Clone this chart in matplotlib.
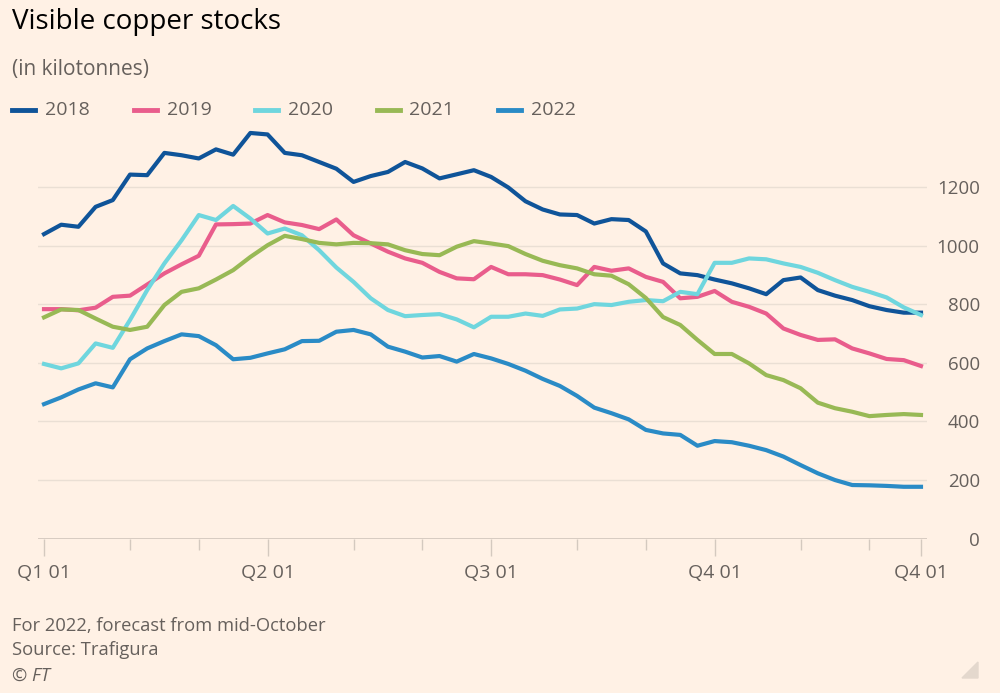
import matplotlib
matplotlib.use("Agg")
import matplotlib.pyplot as plt
from matplotlib.lines import Line2D
from matplotlib.patches import Polygon

plt.rcParams['font.family'] = ['Open Sans', 'DejaVu Sans']

# weekly index, 52 weeks
weeks = list(range(52))

s2018 = [1039, 1071, 1064, 1132, 1155, 1242, 1240, 1316, 1308, 1297, 1328, 1310, 1384,
         1379, 1316, 1308, 1285, 1262, 1217, 1237, 1251, 1285, 1263, 1229, 1243, 1257,
         1234, 1198, 1151, 1123, 1106, 1104, 1075, 1090, 1087, 1048, 939, 905, 899, 884,
         871, 854, 834, 882, 891, 848, 829, 814, 793, 780, 771, 771]
s2019 = [783, 783, 779, 788, 825, 829, 867, 905, 936, 965, 1072, 1073, 1075, 1104, 1079,
         1070, 1056, 1089, 1035, 1007, 979, 956, 941, 910, 888, 885, 927, 902, 902, 899,
         884, 865, 927, 914, 922, 893, 876, 820, 825, 845, 808, 791, 768, 717, 695, 678,
         680, 649, 632, 613, 609, 589]
s2020 = [596, 581, 598, 666, 651, 746, 848, 939, 1018, 1104, 1087, 1135, 1092, 1041, 1058,
         1035, 984, 925, 876, 820, 780, 759, 763, 766, 748, 721, 757, 757, 768, 760, 782,
         785, 800, 797, 808, 814, 810, 842, 834, 941, 941, 956, 953, 939, 927, 907, 882,
         859, 842, 823, 789, 763]
s2021 = [755, 782, 780, 751, 723, 712, 723, 797, 842, 854, 884, 916, 961, 1001, 1033, 1022,
         1009, 1004, 1009, 1008, 1004, 984, 971, 967, 996, 1015, 1007, 998, 971, 948, 933,
         922, 902, 897, 868, 821, 756, 729, 678, 630, 630, 598, 558, 541, 513, 464, 445,
         433, 418, 422, 425, 422]
s2022 = [459, 482, 509, 530, 516, 612, 649, 674, 697, 691, 660, 612, 617, 632, 646, 674,
         675, 706, 712, 697, 655, 638, 618, 623, 604, 630, 615, 596, 573, 545, 521, 487,
         447, 428, 407, 371, 359, 354, 317, 333, 329, 317, 302, 280, 251, 223, 200, 183,
         182, 180, 177, 177]

series_names = ['2018', '2019', '2020', '2021', '2022']
series = [s2018, s2019, s2020, s2021, s2022]
colors = ['#0f5499', '#e95d8c', '#6fd6de', '#98b955', '#2a8bc6']

major_ticks = [0, 13, 26, 39, 51]
major_labels = ['Q1 01', 'Q2 01', 'Q3 01', 'Q4 01', 'Q4 01']
minor_ticks = [5, 9, 18, 22, 31, 35, 44, 48]
y_ticks = [0, 200, 400, 600, 800, 1000, 1200]

bg = '#fff1e5'
fig = plt.figure(figsize=(10, 6.93), dpi=100, facecolor=bg)
ax = fig.add_axes([0.038, 0.2227, 0.889, 0.5922], facecolor=bg)

for name, vals, c in zip(series_names, series, colors):
    ax.plot(weeks, vals, color=c, lw=3.0, solid_joinstyle='round', zorder=3)

ax.set_xlim(-0.35, 51.35)
ax.set_ylim(0, 1400)

for s in ax.spines.values():
    s.set_visible(False)

# gridlines
for v in y_ticks[1:]:
    ax.axhline(v, color='#eadfd4', lw=1, zorder=1)
ax.axhline(0, color='#d4c9bf', lw=1.3, zorder=2)

ax.yaxis.tick_right()
ax.set_yticks(y_ticks)
ax.set_yticklabels([str(v) for v in y_ticks])
ax.tick_params(axis='y', length=0, pad=38, labelsize=13.5, labelcolor='#66605c')
for lbl in ax.get_yticklabels():
    lbl.set_horizontalalignment('right')

ax.set_xticks(major_ticks)
ax.set_xticklabels(major_labels)
ax.set_xticks(minor_ticks, minor=True)
ax.tick_params(axis='x', which='major', length=12, width=1, color='#d4c9bf',
               pad=6, labelsize=14, labelcolor='#66605c')
ax.tick_params(axis='x', which='minor', length=8, width=1, color='#d4c9bf')

# title, subtitle
fig.text(0.012, 1 - 22 / 693, 'Visible copper stocks', fontsize=20, color='#000000',
         va='center', ha='left')
fig.text(0.012, 1 - 70 / 693, '(in kilotonnes)', fontsize=15, color='#66605c',
         va='center', ha='left')

# legend
leg_y = 1 - 110 / 693
for i, (name, c) in enumerate(zip(series_names, colors)):
    x0 = 12 + i * 121.5
    fig.add_artist(Line2D([x0 / 1000, (x0 + 23) / 1000], [leg_y, leg_y], color=c, lw=3.5,
                          transform=fig.transFigure))
    fig.text((x0 + 33) / 1000, leg_y, name, fontsize=14, color='#66605c',
             va='center', ha='left')

# footer
fig.text(0.012, 1 - 626 / 693, 'For 2022, forecast from mid-October', fontsize=13.2,
         color='#66605c', va='center')
fig.text(0.012, 1 - 650 / 693, 'Source: Trafigura', fontsize=13.2, color='#66605c', va='center')
fig.text(0.012, 1 - 676 / 693, '© FT', fontsize=13.2, color='#66605c', va='center',
         style='italic')

fig.add_artist(Polygon([[0.978, 1 - 678 / 693], [0.978, 1 - 662 / 693], [0.962, 1 - 678 / 693]],
                       closed=True, color='#e4d8cd', transform=fig.transFigure))

fig.savefig('out.png', dpi=100, facecolor=bg)
